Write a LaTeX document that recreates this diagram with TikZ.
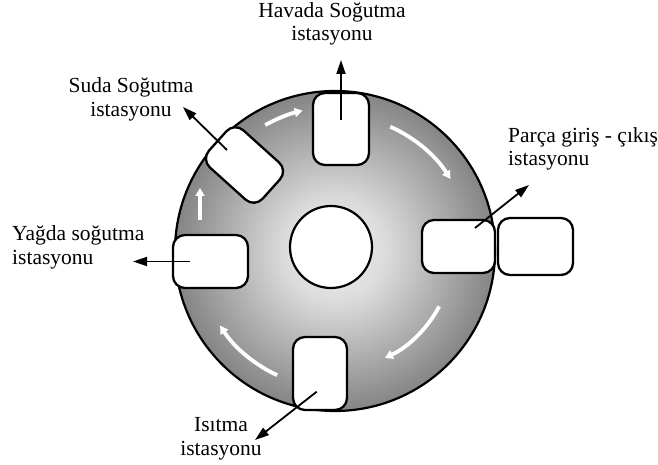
\documentclass[tikz,border=0pt]{standalone}
\usepackage{fontspec}
\setmainfont{Liberation Serif}
\usetikzlibrary{arrows.meta}

\pgfdeclareradialshading{diskshade}{\pgfpoint{0bp}{0bp}}{color(0bp)=(black!6); color(8bp)=(black!14); color(17bp)=(black!32); color(25bp)=(black!48); color(50bp)=(black!48)}

\begin{document}
\begin{tikzpicture}[x=1pt,y=1pt,
  station/.style={draw=black, line width=2.3pt, fill=white, rounded corners=12pt, inner sep=0pt},
  lbl/.style={font=\fontsize{21.5}{23.5}\selectfont, align=center, inner sep=0pt},
  outarrow/.style={line width=1.8pt, -{Triangle[length=14pt,width=9pt]}},
  flow/.style={white, line width=3.8pt, -{Triangle[length=8pt,width=9pt]}}
]
\useasboundingbox (0,0) rectangle (658,465);
\coordinate (C) at (335,214);

% disk
\node[circle, draw=black, line width=2.2pt, minimum size=320pt, inner sep=0pt, shade, shading=diskshade] (disk) at (C) {};

% white flow arrows (clockwise rotation)
\draw[flow] ([shift={(119:144)}]C) arc[start angle=119, end angle=103, radius=144];
\draw[flow] ([shift={(66:136)}]C) arc[start angle=66, end angle=32, radius=136];
\draw[flow] ([shift={(-28:118)}]C) arc[start angle=-28, end angle=-65, radius=118];
\draw[flow] ([shift={(245:137)}]C) arc[start angle=245, end angle=213, radius=137];
\draw[flow] ([shift={(-135,31)}]C) -- ([shift={(-135,63)}]C);

% hub
\node[circle, draw=black, line width=2.2pt, fill=white, minimum size=82pt, inner sep=0pt] (hub) at (331,218) {};

% stations
\node[station, minimum width=56pt, minimum height=72pt] (stA) at (341,336) {};
\node[station, minimum width=72pt, minimum height=50pt, rotate=-42] (stB) at (244.5,300) {};
\node[station, minimum width=75pt, minimum height=53pt] (stC) at (210.5,203.5) {};
\node[station, minimum width=73pt, minimum height=53pt] (stD) at (458.5,218.5) {};
\node[station, minimum width=75pt, minimum height=57pt] (stD2) at (535.5,218.5) {};
\node[station, minimum width=54pt, minimum height=73pt] (stE) at (320,91.5) {};

% labels
\node[lbl] (lA) at (332,441) {Havada Soğutma\\istasyonu};
\node[lbl] (lB) at (131,365.5) {Suda Soğutma\\istasyonu};
\node[lbl, align=left, anchor=west] (lC) at (12,217.5) {Yağda soğutma\\istasyonu};
\node[lbl, align=left, anchor=west] (lD) at (508,316) {Parça giriş - çıkış\\istasyonu};
\node[lbl] (lE) at (221,26) {Isıtma\\istasyonu};

% arrow tips
\coordinate (tA) at (341,405);
\coordinate (tB) at (183,358);
\coordinate (tC) at (133,203.5);
\coordinate (tD) at (529,280);
\coordinate (tE) at (255,25);

% black arrows
\draw[outarrow] ([shift={(0,9)}]stA.center) -- (tA);
\draw[outarrow] ([shift={(-17.5,15)}]stB.center) -- (tB);
\draw[outarrow] ([shift={(-20.5,0)}]stC.center) -- (tC);
\draw[outarrow] ([shift={(16.5,18.5)}]stD.center) -- (tD);
\draw[outarrow] ([shift={(-3.3,-18.2)}]stE.center) -- (tE);
\end{tikzpicture}
\end{document}
